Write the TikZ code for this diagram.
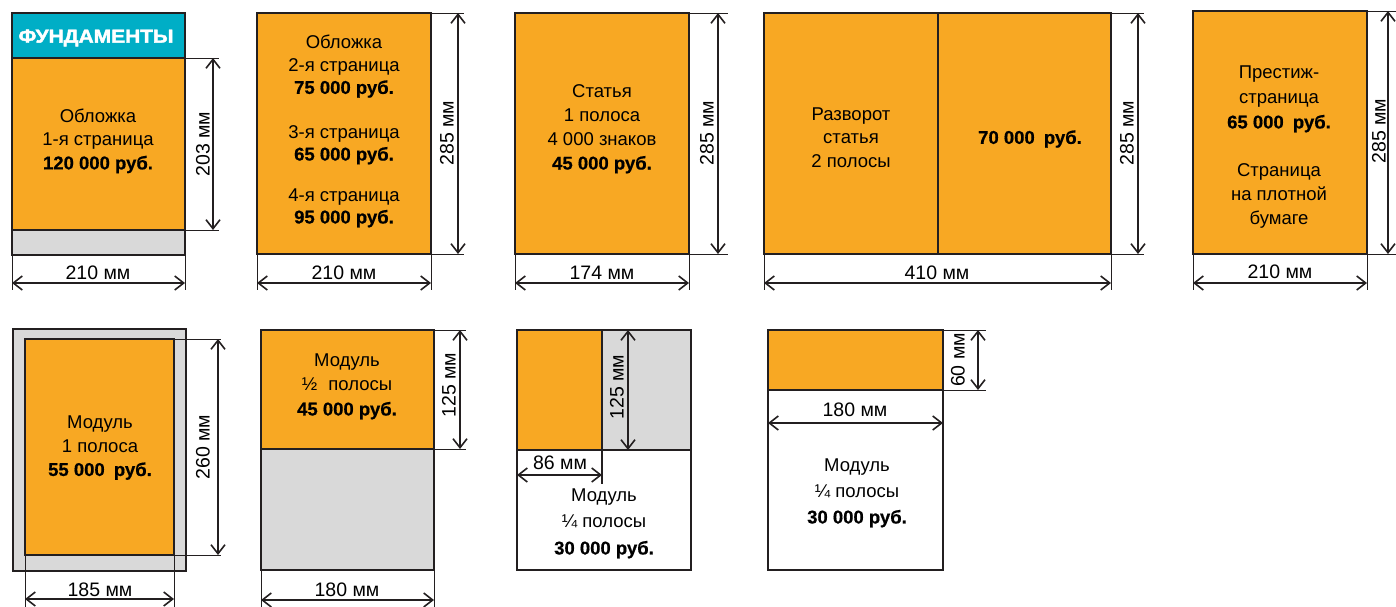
\documentclass[tikz,border=0pt]{standalone}
\usepackage{fontspec}
\setmainfont{Liberation Sans}[BoldFeatures={FakeBold=0.6}]
\newfontfamily\heavyfont[FakeBold=2]{Liberation Sans Bold}
\usepackage{graphicx}
\usetikzlibrary{arrows.meta}
\definecolor{orng}{HTML}{F8A823}
\definecolor{tealhead}{HTML}{00AEC6}
\definecolor{greyf}{HTML}{D9D9D9}
\definecolor{ink}{HTML}{231F20}
\begin{document}
\begin{tikzpicture}[x=1pt,y=-1pt,
  pagebox/.style={draw=ink,line width=1.8pt},
  orangebox/.style={pagebox,fill=orng},
  greybox/.style={pagebox,fill=greyf},
  whitebox/.style={pagebox,fill=white},
  tealbox/.style={pagebox,fill=tealhead},
  dimline/.style={draw=ink,line width=1.6pt,{Straight Barb[length=9pt,width=14pt]}-{Straight Barb[length=9pt,width=14pt]}},
  extline/.style={draw=ink,line width=0.9pt},
  txt/.style={font=\fontsize{18.5}{23.5}\selectfont,align=center,inner sep=0pt,text=black},
  dimlab/.style={font=\fontsize{19.5}{22}\selectfont,inner sep=0pt,text=black},
]
\useasboundingbox (0,0) rectangle (1396,607);

% ---------- Box 1 ----------
\draw[orangebox] (12,58) rectangle (185,230);
\draw[greybox] (12,230) rectangle (185,255);
\draw[tealbox] (12,13) rectangle (185,58);
\node[inner sep=0pt,text=white] (hdr) at (96,38) {\resizebox{155pt}{13pt}{\heavyfont ФУНДАМЕНТЫ}};
\node[txt] (t1) at (98,141) {Обложка\\1-я страница\\\textbf{120 000 руб.}};
\draw[extline] (185,58) -- (219,58) coordinate (e1a);
\draw[extline] (185,230) -- (219,230) coordinate (e1b);
\coordinate (v1a) at (213,58); \coordinate (v1b) at (213,230);
\draw[dimline] (v1a) -- (v1b);
\node[dimlab,rotate=90] (l1v) at (203,144) {203 мм};
\draw[extline] (12,255) -- (12,290);
\draw[extline] (185,255) -- (185,290);
\coordinate (h1a) at (12,283); \coordinate (h1b) at (185,283);
\draw[dimline] (h1a) -- (h1b);
\node[dimlab] (l1h) at (98,273) {210 мм};

% ---------- Box 2 ----------
\draw[orangebox] (257,13) rectangle (431,254);
\node[txt,font=\fontsize{18.5}{22.5}\selectfont] (t2a) at (344,66.5) {Обложка\\2-я страница\\\textbf{75 000 руб.}};
\node[txt,font=\fontsize{18.5}{22}\selectfont] (t2b) at (344,145) {3-я страница\\\textbf{65 000 руб.}};
\node[txt,font=\fontsize{18.5}{22}\selectfont] (t2c) at (344,208) {4-я страница\\\textbf{95 000 руб.}};
\draw[extline] (431,13) -- (464,13);
\draw[extline] (431,254) -- (464,254);
\coordinate (v2a) at (458,13); \coordinate (v2b) at (458,254);
\draw[dimline] (v2a) -- (v2b);
\node[dimlab,rotate=90] (l2v) at (447,133) {285 мм};
\draw[extline] (257,254) -- (257,290);
\draw[extline] (431,254) -- (431,290);
\coordinate (h2a) at (257,283); \coordinate (h2b) at (431,283);
\draw[dimline] (h2a) -- (h2b);
\node[dimlab] (l2h) at (344,273) {210 мм};

% ---------- Box 3 ----------
\draw[orangebox] (515,13) rectangle (689,254);
\node[txt,font=\fontsize{18.5}{24}\selectfont] (t3) at (602,129) {Статья\\1 полоса\\4 000 знаков\\\textbf{45 000 руб.}};
\draw[extline] (689,13) -- (728,13);
\draw[extline] (689,254) -- (728,254);
\coordinate (v3a) at (718,13); \coordinate (v3b) at (718,254);
\draw[dimline] (v3a) -- (v3b);
\node[dimlab,rotate=90] (l3v) at (707,133) {285 мм};
\draw[extline] (515,254) -- (515,290);
\draw[extline] (689,254) -- (689,290);
\coordinate (h3a) at (515,283); \coordinate (h3b) at (689,283);
\draw[dimline] (h3a) -- (h3b);
\node[dimlab] (l3h) at (602,273) {174 мм};

% ---------- Box 4 ----------
\draw[orangebox] (764,13) rectangle (1111,254);
\draw[pagebox] (938,13) -- (938,254);
\node[txt] (t4a) at (851,137.5) {Разворот\\статья\\2 полосы};
\node[txt] (t4b) at (1030,139) {\textbf{70 000\hspace{4pt} руб.}};
\draw[extline] (1111,13) -- (1144,13);
\draw[extline] (1111,254) -- (1144,254);
\coordinate (v4a) at (1138,13); \coordinate (v4b) at (1138,254);
\draw[dimline] (v4a) -- (v4b);
\node[dimlab,rotate=90] (l4v) at (1127,133) {285 мм};
\draw[extline] (764,254) -- (764,290);
\draw[extline] (1111,254) -- (1111,290);
\coordinate (h4a) at (764,283); \coordinate (h4b) at (1111,283);
\draw[dimline] (h4a) -- (h4b);
\node[dimlab] (l4h) at (937,273) {410 мм};

% ---------- Box 5 ----------
\draw[orangebox] (1193,11) rectangle (1367,254);
\node[txt,font=\fontsize{18.5}{25}\selectfont] (t5a) at (1279,99) {Престиж-\\страница\\\textbf{65 000\hspace{4pt} руб.}};
\node[txt,font=\fontsize{18.5}{24}\selectfont] (t5b) at (1279,196) {Страница\\на плотной\\бумаге};
\draw[extline] (1367,11) -- (1396,11);
\draw[extline] (1367,254) -- (1396,254);
\coordinate (v5a) at (1388,11); \coordinate (v5b) at (1388,254);
\draw[dimline] (v5a) -- (v5b);
\node[dimlab,rotate=90] (l5v) at (1379,131) {285 мм};
\draw[extline] (1193,254) -- (1193,290);
\draw[extline] (1367,254) -- (1367,290);
\coordinate (h5a) at (1193,283); \coordinate (h5b) at (1367,283);
\draw[dimline] (h5a) -- (h5b);
\node[dimlab] (l5h) at (1280,272) {210 мм};

% ---------- Box 6 ----------
\draw[greybox] (13,329) rectangle (186,571);
\draw[orangebox] (25,339) rectangle (174,555);
\node[txt] (t6) at (100,448) {Модуль\\1 полоса\\\textbf{55 000\hspace{4pt} руб.}};
\draw[extline] (174,339) -- (221,339);
\draw[extline] (174,555) -- (221,555);
\coordinate (v6a) at (218,339); \coordinate (v6b) at (218,555);
\draw[dimline] (v6a) -- (v6b);
\node[dimlab,rotate=90] (l6v) at (203,447) {260 мм};
\draw[extline] (25,555) -- (25,607);
\draw[extline] (174,555) -- (174,607);
\coordinate (h6a) at (25,599); \coordinate (h6b) at (174,599);
\draw[dimline] (h6a) -- (h6b);
\node[dimlab] (l6h) at (100,590) {185 мм};

% ---------- Box 7 ----------
\draw[greybox] (261,449) rectangle (434,570);
\draw[orangebox] (261,330) rectangle (434,449);
\node[txt,font=\fontsize{18.5}{24.5}\selectfont] (t7) at (347,386.5) {Модуль\\½\hspace{6pt} полосы\\\textbf{45 000 руб.}};
\draw[extline] (434,330) -- (466,330);
\draw[extline] (434,449) -- (466,449);
\coordinate (v7a) at (460,330); \coordinate (v7b) at (460,449);
\draw[dimline] (v7a) -- (v7b);
\node[dimlab,rotate=90] (l7v) at (449,385) {125 мм};
\draw[extline] (261,570) -- (261,607);
\draw[extline] (434,570) -- (434,607);
\coordinate (h7a) at (261,600); \coordinate (h7b) at (434,600);
\draw[dimline] (h7a) -- (h7b);
\node[dimlab] (l7h) at (347,590) {180 мм};

% ---------- Box 8 ----------
\draw[whitebox] (517,330) rectangle (691,570);
\draw[greybox] (602,330) rectangle (691,450);
\draw[orangebox] (517,330) rectangle (602,450);
\draw[extline,line width=1.4pt] (602,450) -- (602,484);
\node[txt,font=\fontsize{18.5}{26.5}\selectfont] (t8) at (604,523.5) {Модуль\\¼ полосы\\\textbf{30 000 руб.}};
\coordinate (v8a) at (628,330); \coordinate (v8b) at (628,450);
\draw[dimline] (v8a) -- (v8b);
\node[dimlab,rotate=90] (l8v) at (617,387) {125 мм};
\coordinate (h8a) at (517,475); \coordinate (h8b) at (602,475);
\draw[dimline] (h8a) -- (h8b);
\node[dimlab] (l8h) at (560,463) {86 мм};

% ---------- Box 9 ----------
\draw[whitebox] (768,390) rectangle (943,570);
\draw[orangebox] (768,330) rectangle (943,390);
\node[txt,font=\fontsize{18.5}{26}\selectfont] (t9) at (857,493) {Модуль\\¼ полосы\\\textbf{30 000 руб.}};
\draw[extline] (943,330) -- (986,330);
\draw[extline] (943,390) -- (986,390);
\coordinate (v9a) at (978,330); \coordinate (v9b) at (978,390);
\draw[dimline] (v9a) -- (v9b);
\node[dimlab,rotate=90] (l9v) at (958,360) {60 мм};
\coordinate (h9a) at (768,423); \coordinate (h9b) at (943,423);
\draw[dimline] (h9a) -- (h9b);
\node[dimlab] (l9h) at (855,410) {180 мм};
\end{tikzpicture}
\end{document}
